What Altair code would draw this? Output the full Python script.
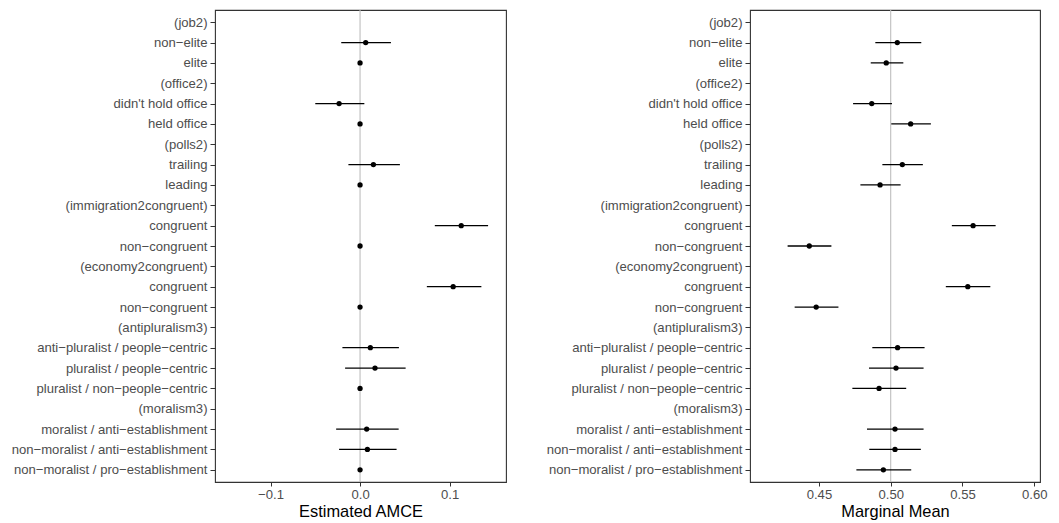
import altair as alt
import pandas as pd

NB = "\u00a0"
labels = [
    "(job2)", "non\u2212elite", "elite",
    "(office2)", "didn't hold office", "held office",
    "(polls2)", "trailing", "leading",
    "(immigration2congruent)", "congruent" + NB, "non\u2212congruent" + NB,
    "(economy2congruent)", "congruent", "non\u2212congruent",
    "(antipluralism3)", "anti\u2212pluralist / people\u2212centric", "pluralist / people\u2212centric",
    "pluralist / non\u2212people\u2212centric",
    "(moralism3)", "moralist / anti\u2212establishment", "non\u2212moralist / anti\u2212establishment",
    "non\u2212moralist / pro\u2212establishment",
]

amce = [None, 0.0063, 0.0, None, -0.0234, 0.0, None, 0.0149, 0.0, None, 0.113, 0.0,
        None, 0.104, 0.0, None, 0.0115, 0.0167, 0.0, None, 0.0074, 0.0082, 0.0]
amce_lo = [None, -0.021, 0.0, None, -0.050, 0.0, None, -0.013, 0.0, None, 0.0835, 0.0,
           None, 0.0746, 0.0, None, -0.0197, -0.0167, 0.0, None, -0.0267, -0.0234, 0.0]
amce_hi = [None, 0.0345, 0.0, None, 0.0048, 0.0, None, 0.0445, 0.0, None, 0.143, 0.0,
           None, 0.1355, 0.0, None, 0.0434, 0.0509, 0.0, None, 0.0431, 0.0408, 0.0]

mm = [None, 0.5046, 0.4969, None, 0.4868, 0.5139, None, 0.5081, 0.4926, None, 0.5574, 0.4433,
      None, 0.5537, 0.4481, None, 0.5048, 0.5037, 0.4919, None, 0.5030, 0.5030, 0.4949]
mm_lo = [None, 0.4893, 0.4861, None, 0.4738, 0.5004, None, 0.4942, 0.4789, None, 0.5426, 0.4282,
         None, 0.5384, 0.4331, None, 0.4872, 0.4849, 0.4733, None, 0.4835, 0.4851, 0.4761]
mm_hi = [None, 0.5213, 0.5088, None, 0.5009, 0.5280, None, 0.5224, 0.5069, None, 0.5731, 0.4587,
         None, 0.5694, 0.4636, None, 0.5236, 0.5229, 0.5108, None, 0.5229, 0.5210, 0.5143]

FONT = "Liberation Sans"
LABEL_SIZE = 13.1


def panel(est, lo, hi, ref, domain, ticks, fmt, title, width):
    rows = [dict(label=l, est=e, lo=a, hi=b) for l, e, a, b in zip(labels, est, lo, hi) if e is not None]
    df = pd.DataFrame(rows)
    yenc = alt.Y(
        "label:N",
        sort=None,
        scale=alt.Scale(domain=labels, type="point", padding=0.6),
        axis=alt.Axis(
            title=None, labelFont=FONT, labelFontSize=LABEL_SIZE, labelColor="#4D4D4D",
            tickColor="#333333", tickSize=5, labelPadding=3, domain=False, grid=False,
            minExtent=206, maxExtent=206, labelLimit=300,
        ),
    )
    xscale = alt.Scale(domain=domain, nice=False, zero=False)
    xaxis = alt.Axis(
        title=title, values=ticks, format=fmt,
        labelExpr="replace(datum.label, '-', '\u2212')",
        labelFont=FONT, labelFontSize=LABEL_SIZE, labelColor="#4D4D4D",
        tickColor="#333333", tickSize=4, labelPadding=2, domain=False, grid=False,
        titleFont=FONT, titleFontSize=16.4, titleFontWeight="normal", titleColor="#000000",
        titlePadding=2,
    )
    vline = alt.Chart(pd.DataFrame({"ref": [ref]})).mark_rule(color="#BEBEBE", strokeWidth=1.1).encode(
        x=alt.X("ref:Q", scale=xscale, axis=xaxis)
    )
    bars = alt.Chart(df).mark_rule(color="#000000", strokeWidth=1.3).encode(
        x=alt.X("lo:Q", scale=xscale, axis=xaxis), x2="hi:Q", y=yenc
    )
    pts = alt.Chart(df).mark_circle(color="#000000", opacity=1, size=28).encode(
        x=alt.X("est:Q", scale=xscale, axis=xaxis), y=yenc
    )
    return alt.layer(vline, bars, pts).properties(width=width, height=472)


left = panel(amce, amce_lo, amce_hi, 0.0, [-0.162, 0.163], [-0.1, 0.0, 0.1], ".1f", "Estimated AMCE", 291)
right = panel(mm, mm_lo, mm_hi, 0.5, [0.402, 0.604], [0.45, 0.50, 0.55, 0.60], ".2f", "Marginal Mean", 290)

chart = alt.hconcat(left, right, spacing=36).properties(
    padding={"left": 0, "top": 0, "right": 0, "bottom": 0},
    background="white",
).configure_view(stroke="#333333", strokeWidth=1.1)

chart.save("out.html", embed_options={"renderer": "svg", "actions": False})
